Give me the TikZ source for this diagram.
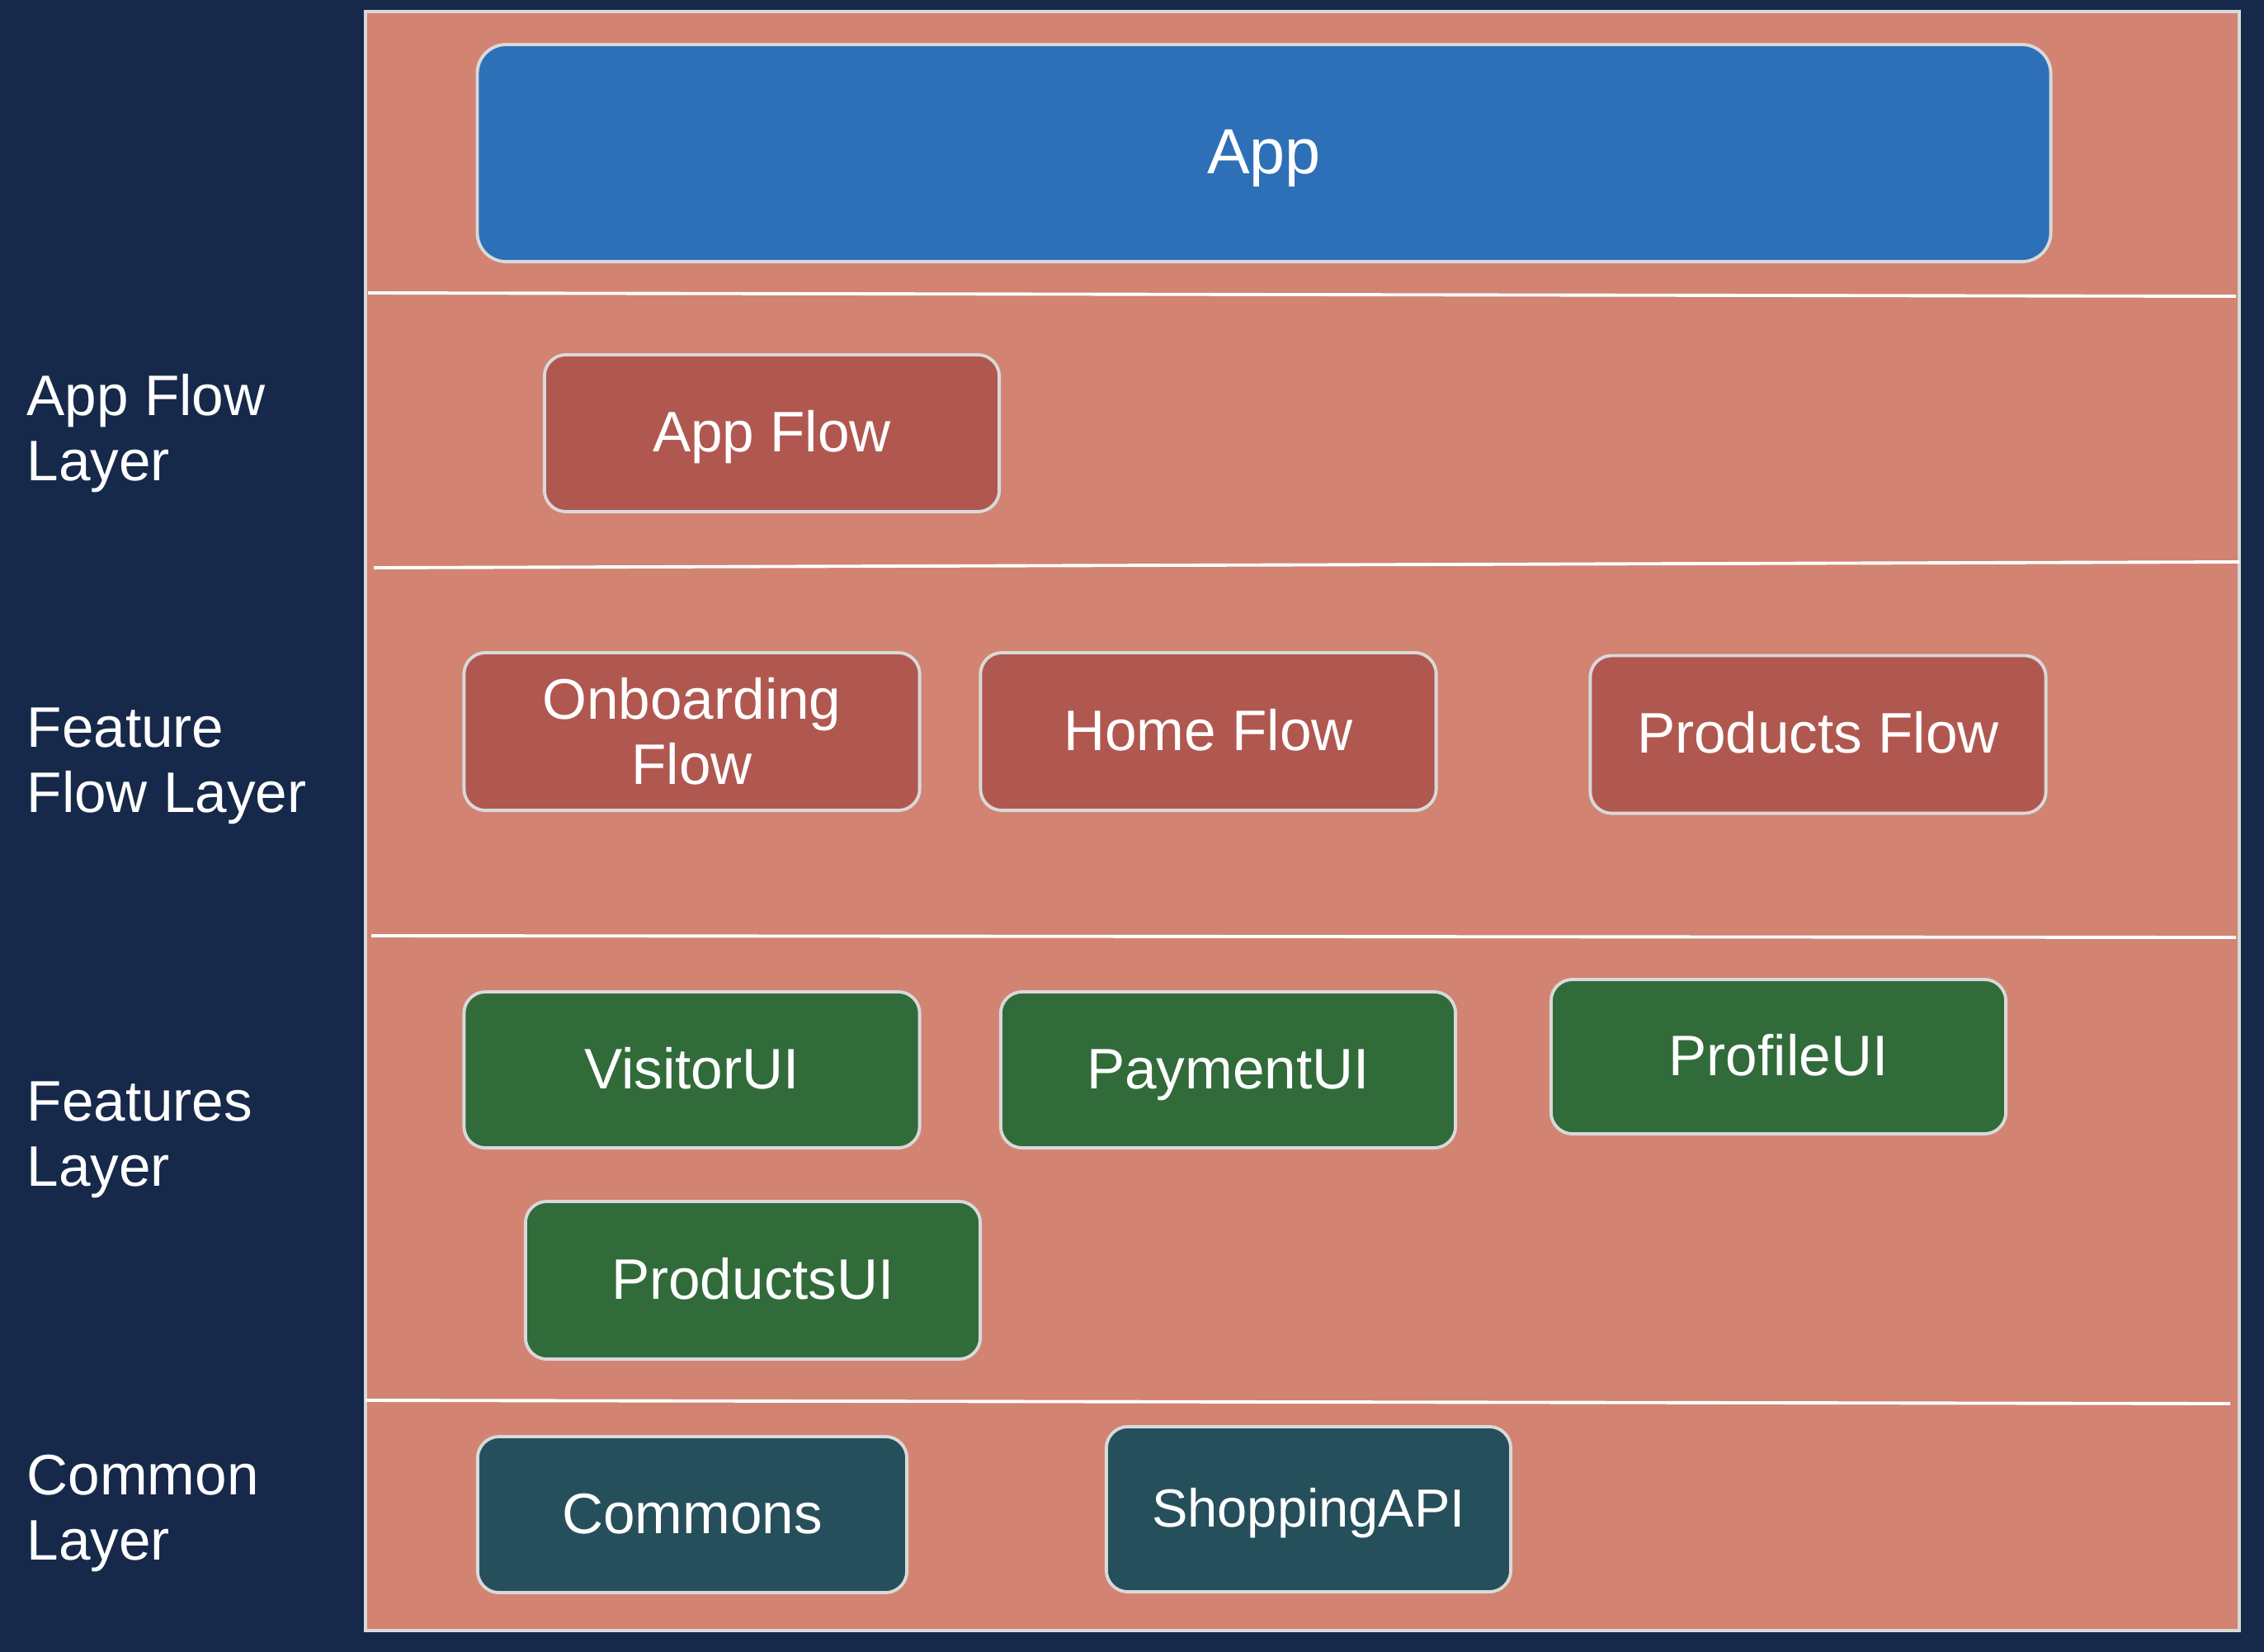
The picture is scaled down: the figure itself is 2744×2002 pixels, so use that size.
\documentclass[tikz,border=0pt]{standalone}
\usepackage{fontspec}
\setmainfont{Liberation Sans}
\definecolor{bgnavy}{HTML}{17294A}
\definecolor{panelsalmon}{HTML}{D28372}
\definecolor{appblue}{HTML}{2D70B8}
\definecolor{flowred}{HTML}{B05850}
\definecolor{uigreen}{HTML}{316B3A}
\definecolor{commonteal}{HTML}{264F5C}
\definecolor{edgegray}{HTML}{D9D9D9}

\begin{document}
\begin{tikzpicture}[x=0.01cm,y=-0.01cm,
    layerbox/.style={rectangle,draw=edgegray,line width=1.1pt,rounded corners=0.26cm,
        text=white,align=center,inner sep=0pt,
        font=\fontsize{19.7}{22.4}\selectfont,minimum width=5.52cm,minimum height=1.9cm},
    oneline/.style={text height=0.5cm,text depth=0.05cm},
    appbox/.style={layerbox,fill=appblue,rounded corners=0.35cm,
        font=\fontsize{22}{25}\selectfont,text height=0.56cm,text depth=0.06cm,
        minimum width=19.06cm,minimum height=2.63cm},
    flowbox/.style={layerbox,fill=flowred},
    uibox/.style={layerbox,oneline,fill=uigreen},
    commonbox/.style={layerbox,oneline,fill=commonteal},
    layerlabel/.style={text=white,align=left,anchor=west,inner sep=0pt,
        font=\fontsize{19.7}{22.4}\selectfont},
    divider/.style={draw=white,line width=1.1pt}]

    % background and panel
    \fill[bgnavy] (0,0) rectangle (2744,2002);
    \useasboundingbox (0,0) rectangle (2744,2002);
    \filldraw[fill=panelsalmon,draw=edgegray,line width=0.9pt] (443,14) rectangle (2714,1976);

    % layer dividers
    \coordinate (d1l) at (446,355);  \coordinate (d1r) at (2710,359);
    \coordinate (d2l) at (453,688);  \coordinate (d2r) at (2714,681);
    \coordinate (d3l) at (450,1134); \coordinate (d3r) at (2710,1136);
    \coordinate (d4l) at (443,1697); \coordinate (d4r) at (2703,1701);
    \draw[divider] (d1l) -- (d1r);
    \draw[divider] (d2l) -- (d2r);
    \draw[divider] (d3l) -- (d3r);
    \draw[divider] (d4l) -- (d4r);

    % layer names
    \node[layerlabel] (appflowlayer) at (32,525) {App Flow\\Layer};
    \node[layerlabel] (featureflowlayer) at (32,928) {Feature\\Flow Layer};
    \node[layerlabel] (featureslayer) at (32,1381) {Features\\Layer};
    \node[layerlabel] (commonlayer) at (32,1834) {Common\\Layer};

    % modules
    \node[appbox] (app) at (1532,185.5) {App};
    \node[flowbox,oneline,minimum width=5.51cm] (appflow) at (935.5,525) {App Flow};
    \node[flowbox,minimum height=1.91cm] (onboarding) at (838.5,886.5) {Onboarding\\Flow};
    \node[flowbox,oneline,minimum height=1.91cm] (homeflow) at (1464.5,886.5) {Home Flow};
    \node[flowbox,oneline,minimum height=1.91cm] (productsflow) at (2203.5,890) {Products Flow};
    \node[uibox,minimum height=1.89cm] (visitorui) at (838.5,1296.5) {VisitorUI};
    \node[uibox,minimum width=5.51cm,minimum height=1.89cm] (paymentui) at (1488.5,1296.5) {PaymentUI};
    \node[uibox,minimum width=5.51cm,minimum height=1.87cm] (profileui) at (2155.5,1280.5) {ProfileUI};
    \node[uibox,minimum width=5.51cm,minimum height=1.91cm] (productsui) at (912.5,1551.5) {ProductsUI};
    \node[commonbox,minimum width=5.2cm,minimum height=1.89cm] (commons) at (839,1835.5) {Commons};
    \node[commonbox,font=\fontsize{18.5}{21}\selectfont,text height=0.47cm,
        minimum width=4.9cm,minimum height=2cm] (shoppingapi) at (1586,1829) {ShoppingAPI};
\end{tikzpicture}
\end{document}
